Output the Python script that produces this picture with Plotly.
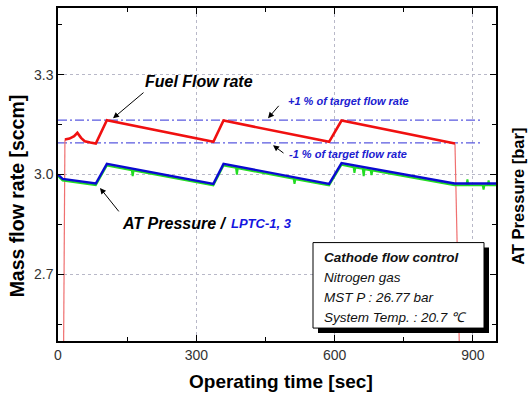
import plotly.graph_objects as go

# ---- data ----
fuel_t = [12, 15, 25, 35, 42, 50, 58, 70, 82, 106, 337, 359, 588, 615, 861, 871]
fuel_v = [2.45, 3.105, 3.108, 3.115, 3.125, 3.110, 3.100, 3.096, 3.093, 3.163,
          3.098, 3.162, 3.098, 3.162, 3.093, 2.45]

at_t = [0, 10, 82, 106, 337, 359, 588, 615, 860, 950]
at_v = [3.000, 2.987, 2.973, 3.032, 2.972, 3.032, 2.972, 3.034, 2.973, 2.973]

lptc_t = [0, 10, 82, 106, 160, 162, 164, 337, 359, 386, 388, 390, 511, 513, 515,
          588, 615, 641, 643, 645, 661, 663, 665, 678, 680, 682, 860, 886, 888,
          890, 921, 923, 925, 932, 934, 936, 950]
lptc_v = [2.995, 2.982, 2.968, 3.027, 3.013, 2.995, 3.012, 2.967, 3.027, 3.020,
          3.000, 3.019, 2.987, 2.972, 2.986, 2.967, 3.029, 3.022, 3.005, 3.021,
          3.017, 2.995, 3.016, 3.013, 2.998, 3.012, 2.968, 2.968, 2.985, 2.968,
          2.968, 2.955, 2.968, 2.968, 2.982, 2.968, 2.968]

band_t = [0, 920]
band_upper = [3.163, 3.163]
band_lower = [3.095, 3.095]

x_ticks = [0, 300, 600, 900]
y_ticks = [2.7, 3.0, 3.3]

FONT = "Liberation Sans, Arial, sans-serif"
RED = "#f01010"
BAND = "#5a5ae0"

fig = go.Figure()

# tolerance band lines
fig.add_trace(go.Scatter(x=band_t, y=band_upper, mode="lines",
                         line=dict(color=BAND, width=1.2, dash="9px,3px,2px,3px"),
                         hoverinfo="skip", showlegend=False))
fig.add_trace(go.Scatter(x=band_t, y=band_lower, mode="lines",
                         line=dict(color=BAND, width=1.2, dash="9px,3px,2px,3px"),
                         hoverinfo="skip", showlegend=False))

# fuel flow rate: thin start/end transients, thick steady part
fig.add_trace(go.Scatter(x=fuel_t[:2], y=fuel_v[:2], mode="lines",
                         line=dict(color="#f07070", width=1.2), showlegend=False))
fig.add_trace(go.Scatter(x=fuel_t[-2:], y=fuel_v[-2:], mode="lines",
                         line=dict(color="#f07070", width=1.2), showlegend=False))
fig.add_trace(go.Scatter(x=fuel_t[1:-1], y=fuel_v[1:-1], mode="lines",
                         line=dict(color=RED, width=2.6), showlegend=False))

# LPTC (green) under AT pressure (blue)
fig.add_trace(go.Scatter(x=lptc_t, y=lptc_v, mode="lines",
                         line=dict(color="#22dd22", width=2.0), showlegend=False))
fig.add_trace(go.Scatter(x=at_t, y=at_v, mode="lines",
                         line=dict(color="#0a0ad0", width=2.4), showlegend=False))

axis_common = dict(
    showline=True, linecolor="black", linewidth=1.5, mirror="ticks",
    ticks="inside", ticklen=6, tickwidth=1.2, tickcolor="black",
    showgrid=True, gridcolor="#b8b8c8", griddash="dot", gridwidth=1,
    zeroline=False,
    tickfont=dict(family=FONT, size=14, color="#333333"),
)

fig.update_xaxes(range=[0, 950], tickvals=x_ticks, ticktext=[str(v) for v in x_ticks],
                 minor=dict(ticks="inside", ticklen=4, tickcolor="black", dtick=150,
                            tick0=0, showgrid=False),
                 **axis_common)
fig.update_yaxes(range=[2.5, 3.5], tickvals=y_ticks, ticktext=[f"{v:.1f}" for v in y_ticks],
                 minor=dict(ticks="inside", ticklen=4, tickcolor="black", dtick=0.15,
                            tick0=2.55, showgrid=False),
                 **axis_common)

W, H = 528, 397
L, R, T, B = 58, 496, 6, 341
pw, ph = R - L, B - T


def px(x):
    return (x - L) / pw


def py(y):
    return (B - y) / ph


ann = []
# axis titles
ann.append(dict(text="<b>Operating time [sec]</b>", x=px(281), y=py(382), xref="paper", yref="paper",
                showarrow=False, xanchor="center", yanchor="middle",
                font=dict(family=FONT, size=19, color="black")))
ann.append(dict(text="<b>Mass flow rate [sccm]</b>", x=px(16.5), y=py(195), xref="paper", yref="paper",
                showarrow=False, xanchor="center", yanchor="middle", textangle=-90,
                font=dict(family=FONT, size=19.5, color="black")))
ann.append(dict(text="<b>AT Pressure [bar]</b>", x=px(518), y=py(196), xref="paper", yref="paper",
                showarrow=False, xanchor="center", yanchor="middle", textangle=-90,
                font=dict(family=FONT, size=16.5, color="black")))

# labels
ann.append(dict(text="<b><i>Fuel Flow rate</i></b>", x=px(143), y=py(80), xref="paper", yref="paper",
                showarrow=False, xanchor="left", yanchor="middle",
                font=dict(family=FONT, size=16, color="black")))
ann.append(dict(text="<b><i>AT Pressure /</i></b>",
                x=px(120), y=py(222.7), xref="paper", yref="paper",
                showarrow=False, xanchor="left", yanchor="middle",
                font=dict(family=FONT, size=16, color="black")))
ann.append(dict(text="<b><i>LPTC-1, 3</i></b>",
                x=px(229), y=py(223), xref="paper", yref="paper",
                showarrow=False, xanchor="left", yanchor="middle",
                font=dict(family=FONT, size=13, color="#1515e0")))
ann.append(dict(text="<b><i>+1 % of target flow rate</i></b>", x=px(286), y=py(100), xref="paper", yref="paper",
                showarrow=False, xanchor="left", yanchor="middle",
                font=dict(family=FONT, size=11, color="#2020d0")))
ann.append(dict(text="<b><i>-1 % of target flow rate</i></b>", x=px(287), y=py(153), xref="paper", yref="paper",
                showarrow=False, xanchor="left", yanchor="middle",
                font=dict(family=FONT, size=11, color="#2020d0")))

# arrows (tip at x/y, tail offset ax/ay in px)
arrow = dict(showarrow=True, arrowhead=2, arrowsize=1.2, arrowwidth=1, arrowcolor="black", text="")
ann.append(dict(x=px(113), y=py(117), xref="paper", yref="paper", ax=32, ay=-27, **arrow))
ann.append(dict(x=px(100), y=py(187), xref="paper", yref="paper", ax=20, ay=25, **arrow))
ann.append(dict(x=px(268), y=py(117), xref="paper", yref="paper", ax=12, ay=-14, **arrow))
ann.append(dict(x=px(273), y=py(144), xref="paper", yref="paper", ax=12, ay=9, **arrow))

# info box text
box_lines = ["<b><i>Cathode flow control</i></b>", "<i>Nitrogen gas</i>",
             "<i>MST P : 26.77 bar</i>", "<i>System Temp. : 20.7 \u2103</i>"]
for line, yy in zip(box_lines, [256.7, 277, 297, 317]):
    ann.append(dict(text=line, x=px(322), y=py(yy), xref="paper", yref="paper",
                    showarrow=False, xanchor="left", yanchor="middle",
                    font=dict(family=FONT, size=13.5, color="#111111")))

shapes = [
    dict(type="rect", xref="paper", yref="paper", x0=px(318), x1=px(489), y0=py(333), y1=py(247),
         fillcolor="black", line=dict(width=0), layer="above"),
    dict(type="rect", xref="paper", yref="paper", x0=px(313), x1=px(484), y0=py(328), y1=py(242),
         fillcolor="white", line=dict(color="black", width=1), layer="above"),
]

fig.update_layout(
    width=W, height=H,
    margin=dict(l=L, r=W - R, t=T, b=H - B),
    paper_bgcolor="white", plot_bgcolor="white",
    annotations=ann, shapes=shapes,
    font=dict(family=FONT),
    showlegend=False,
)

fig.write_html("out.html")
